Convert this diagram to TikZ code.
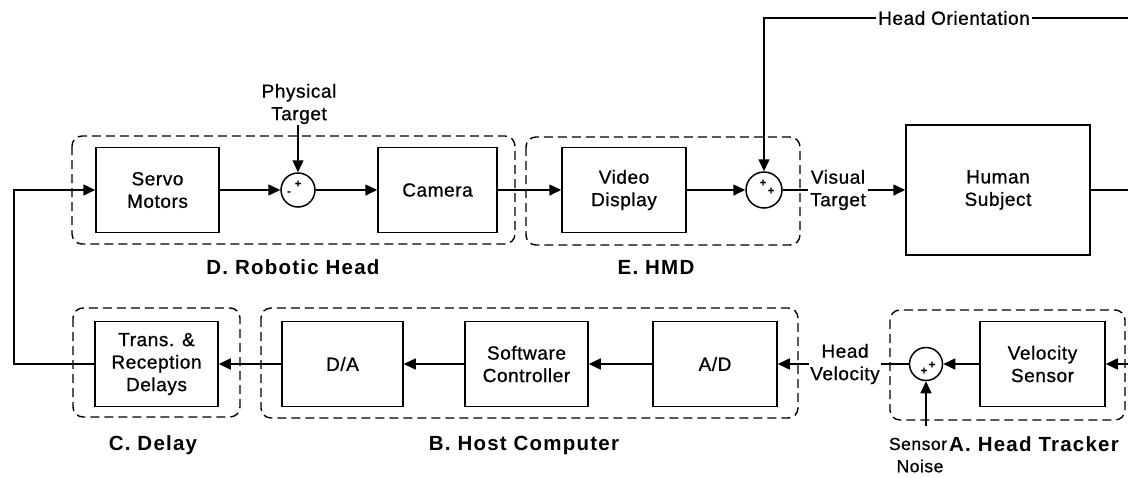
\documentclass[tikz,border=0pt]{standalone}
\usepackage{fontspec}
\setmainfont{Liberation Sans}[LetterSpace=3,FakeBold=0.8]
\newfontfamily\grpfont{Liberation Sans}[LetterSpace=6]
\usetikzlibrary{arrows.meta}
\begin{document}
\begin{tikzpicture}[x=1pt,y=-1pt,
  line width=1.5pt,
  txt/.style={font=\fontsize{19}{22.5}\selectfont, align=center, inner sep=1pt},
  smtxt/.style={font=\fontsize{17.5}{21}\selectfont, inner sep=0pt},
  blk/.style={draw, txt, minimum height=85pt},
  sumc/.style={draw, circle, minimum size=34pt, inner sep=0pt},
  sgn/.style={font=\bfseries\fontsize{11}{11}\selectfont, inner sep=0pt},
  grp/.style={draw, dash pattern=on 9pt off 5pt, rounded corners=10pt, line width=1.4pt},
  grplbl/.style={font=\grpfont\bfseries\fontsize{20.5}{24}\selectfont, inner sep=0pt},
  arr/.style={-{Triangle[length=12pt,width=11pt]}}
]
\useasboundingbox (0,0) rectangle (1128,477);

% group boxes
\draw[grp] (72,136) rectangle (515,244);
\draw[grp] (526,137) rectangle (800,245);
\draw[grp] (73,308) rectangle (240,417);
\draw[grp] (261,308) rectangle (798,418);
\draw[grp] (890,310) rectangle (1125,420);

% top row
\node[blk, minimum width=123pt] (servo) at (157.5,190) {Servo\\Motors};
\node[sumc] (sum1) at (298,190) {};
\node[sgn] at (289,193) {-};
\node[sgn] at (298,184) {+};
\node[blk, minimum width=119pt] (camera) at (437.5,190) {Camera};
\node[blk, minimum width=124pt] (video) at (624,190) {Video\\Display};
\node[sumc, minimum size=36pt] (sum2) at (764,190) {};
\node[sgn] at (763,183) {+};
\node[sgn] at (771,191) {+};
\node[blk, minimum width=184pt, minimum height=130pt] (human) at (998,190) {Human\\Subject};
\node[txt] (pt) at (299,104) {Physical\\Target};
\coordinate (ptin) at (298,125);
\node[txt] (vt) at (838,190) {Visual\\Target};
\node[txt] (ho) at (954,18) {Head Orientation};
\coordinate (hoR) at (1128,18);
\coordinate (hout) at (1128,190);

% bottom row
\node[blk, minimum width=123pt] (trans) at (156.5,364) {Trans. \&\\Reception\\Delays};
\node[blk, minimum width=121pt] (da) at (342.5,364) {D/A};
\node[blk, minimum width=123pt] (sc) at (526.5,364) {Software\\Controller};
\node[blk, minimum width=124pt] (ad) at (715,364) {A/D};
\node[txt] (hv) at (845,364) {Head\\Velocity};
\node[sumc, minimum size=33pt] (sum3) at (926,364) {};
\node[sgn] at (924,371) {+};
\node[sgn] at (932,365) {+};
\node[blk, minimum width=125pt] (vel) at (1042.5,364) {Velocity\\Sensor};
\coordinate (vin) at (1128,364);
\coordinate (sn) at (926,426);
\coordinate (fb) at (14,364);

% labels
\node[grplbl] (lblD) at (293,267) {D. Robotic Head};
\node[grplbl] (lblE) at (656,267) {E. HMD};
\node[grplbl] (lblC) at (153,445) {C. Delay};
\node[grplbl] (lblB) at (524,445) {B. Host Computer};
\node[grplbl] (lblA) at (1034,444) {A. Head Tracker};
\node[smtxt] (lblS) at (918,444) {Sensor};
\node[smtxt] (lblN) at (920,466) {Noise};

% connectors top
\draw[arr] (servo.east) -- (sum1.west);
\draw[arr] (ptin) -- (sum1.north);
\draw[arr] (sum1.east) -- (camera.west);
\draw[arr] (camera.east) -- (video.west);
\draw[arr] (video.east) -- (sum2.west);
\draw (hoR) -- (ho.east);
\draw[arr] (ho.west) -| (sum2.north);
\draw (sum2.east) -- (vt.west);
\draw[arr] (vt.east) -- (human.west);
\draw (human.east) -- (hout);

% connectors bottom
\draw[arr] (vin) -- (vel.east);
\draw[arr] (vel.west) -- (sum3.east);
\draw[arr] (sn) -- (sum3.south);
\draw (sum3.west) -- (hv.east);
\draw[arr] (hv.west) -- (ad.east);
\draw[arr] (ad.west) -- (sc.east);
\draw[arr] (sc.west) -- (da.east);
\draw[arr] (da.west) -- (trans.east);
\draw[arr] (trans.west) -- (fb) |- (servo.west);
\end{tikzpicture}
\end{document}
